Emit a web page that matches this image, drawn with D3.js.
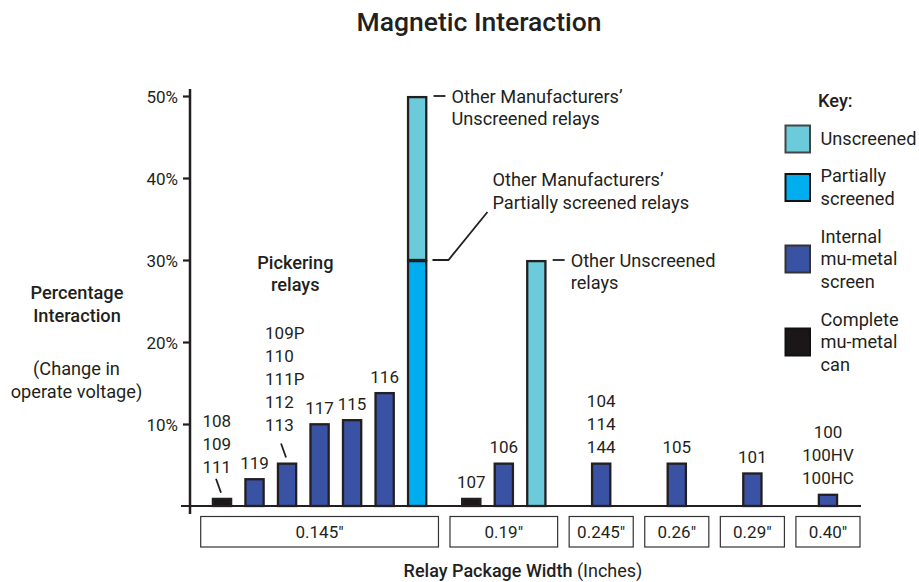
<!DOCTYPE html>
<html>
<head>
<meta charset="utf-8">
<script src="https://cdn.jsdelivr.net/npm/d3@7"></script>
<style>
  html, body { margin: 0; padding: 0; background: #fff; }
  svg { display: block; font-family: Roboto, "DejaVu Sans", sans-serif; }
</style>
</head>
<body>
<svg id="chart" width="919" height="582"></svg>
<script>
// ---------------- DATA ----------------
const title = "Magnetic Interaction";
const xAxisTitle = "Relay Package Width";
const xAxisUnit = " (Inches)";
const yAxisTitle = ["Percentage", "Interaction"];
const yAxisSub = ["(Change in", "operate voltage)"];
const yTicks = [10, 20, 30, 40, 50];

const groups = ['0.145"', '0.19"', '0.245"', '0.26"', '0.29"', '0.40"'];
const barGroup = [0, 0, 0, 0, 0, 0, 0, 1, 1, 1, 2, 3, 4, 5];
const barLabels = [
  ["108", "109", "111"], ["119"], ["109P", "110", "111P", "112", "113"], ["117"], ["115"], ["116"], [],
  ["107"], ["106"], [],
  ["104", "114", "144"], ["105"], ["101"], ["100", "100HV", "100HC"]
];
const seriesKeys = ["can", "internal", "partial", "unscreened"];
const canVals        = [1.0, 0, 0, 0, 0, 0, 0,  1.0, 0, 0,  0, 0, 0, 0];
const internalVals   = [0, 3.4, 5.3, 10.1, 10.6, 13.9, 0,  0, 5.3, 0,  5.3, 5.3, 4.1, 1.5];
const partialVals    = [0, 0, 0, 0, 0, 0, 30,  0, 0, 0,  0, 0, 0, 0];
const unscreenedVals = [0, 0, 0, 0, 0, 0, 20,  0, 0, 30,  0, 0, 0, 0];

const legendTitle = "Key:";
const legendItems = [
  { key: "unscreened", lines: ["Unscreened"] },
  { key: "partial", lines: ["Partially", "screened"] },
  { key: "internal", lines: ["Internal", "mu-metal", "screen"] },
  { key: "can", lines: ["Complete", "mu-metal", "can"] }
];
const groupNote = ["Pickering", "relays"];
const annotations = [
  { bar: 6, value: 50, lines: ["Other Manufacturers’", "Unscreened relays"], kind: "dash" },
  { bar: 6, value: 30, lines: ["Other Manufacturers’", "Partially screened relays"], kind: "elbow" },
  { bar: 9, value: 30, lines: ["Other Unscreened", "relays"], kind: "dash" }
];
const leaderBars = [0, 2];

// ---------------- STYLE / LAYOUT ----------------
const ink = "#231f20";
const fills = { can: "#1b1718", internal: "#3a52a3", partial: "#00aeef", unscreened: "#6bcbdb" };
const legendStroke = { can: "#111", internal: "#333", partial: "#111", unscreened: "#444" };
const fs = 17;      // numbers
const fw = 18.2;    // words
const lineH = 23;

const svg = d3.select("#chart");
const n = barGroup.length;
const table = d3.range(n).map(i => ({
  i, can: canVals[i], internal: internalVals[i], partial: partialVals[i], unscreened: unscreenedVals[i]
}));

// group widths in "bar slot" units
const counts = groups.map((g, gi) => barGroup.filter(b => b === gi).length);
const gap = 0.354;
const gW = counts.map(c => Math.max(c + 0.31, 1.97));
const gStart = [];
let acc = 0;
gW.forEach((w, i) => { gStart.push(acc); acc += w + gap; });
const totalUnits = acc - gap;

const x = d3.scaleLinear().domain([0, totalUnits]).range([200.7, 860]);
const y = d3.scaleLinear().domain([0, 50]).range([506, 96]);

const idxInGroup = barGroup.map((g, i) => barGroup.slice(0, i).filter(b => b === g).length);
const barCenterU = i => {
  const g = barGroup[i];
  return gStart[g] + gW[g] / 2 + (idxInGroup[i] - (counts[g] - 1) / 2);
};
const cx = i => x(barCenterU(i));
const barW = x(0.56) - x(0);

// ---------------- TITLE ----------------
svg.append("text").attr("x", 479).attr("y", 31).attr("text-anchor", "middle")
  .attr("font-size", 26.5).attr("font-weight", 500).attr("fill", ink).text(title);

// ---------------- Y AXIS ----------------
const yAxis = svg.append("g").attr("transform", "translate(190,0)")
  .call(d3.axisLeft(y).tickValues(yTicks).tickFormat(d => d + "%").tickSize(7).tickPadding(5));
yAxis.select(".domain").remove();
yAxis.selectAll(".tick line").attr("stroke", ink).attr("stroke-width", 2.2);
yAxis.selectAll(".tick text").attr("font-size", fs).attr("fill", ink)
  .attr("font-family", "Roboto, 'DejaVu Sans', sans-serif").attr("dy", "0.36em");
svg.append("line").attr("x1", 190).attr("x2", 190).attr("y1", 89).attr("y2", 514)
  .attr("stroke", ink).attr("stroke-width", 2.5);

// baseline
svg.append("line").attr("x1", 181).attr("x2", 861).attr("y1", y(0)).attr("y2", y(0))
  .attr("stroke", ink).attr("stroke-width", 2);

// y axis titles
const yt = svg.append("g").attr("fill", ink).attr("font-size", fw).attr("text-anchor", "middle");
yAxisTitle.forEach((t, k) => yt.append("text").attr("x", 77).attr("y", 298.5 + k * 23.5)
  .attr("font-weight", 500).text(t));
yAxisSub.forEach((t, k) => yt.append("text").attr("x", 76.5).attr("y", 375 + k * 22.5).text(t));

// ---------------- BARS ----------------
const stack = d3.stack().keys(seriesKeys)(table);
const segs = [];
stack.forEach(layer => layer.forEach((d, i) => {
  if (d[1] - d[0] > 0) segs.push({ key: layer.key, i, y0: d[0], y1: d[1] });
}));
svg.append("g").selectAll("rect").data(segs).join("rect")
  .attr("x", d => cx(d.i) - barW / 2)
  .attr("width", barW)
  .attr("y", d => y(d.y1) + 1.1)
  .attr("height", d => y(d.y0) - y(d.y1) - 1.1)
  .attr("fill", d => fills[d.key])
  .attr("stroke", ink).attr("stroke-width", 2.3);

// ---------------- BAR LABELS ----------------
const barTop = i => y(canVals[i] + internalVals[i] + partialVals[i] + unscreenedVals[i]);
const labG = svg.append("g").attr("fill", ink).attr("font-size", fs);
barLabels.forEach((lines, i) => {
  if (!lines.length) return;
  const leader = leaderBars.includes(i);
  const bottom = leader ? barTop(i) - (i === 0 ? 25 : 32) : barTop(i) - 9.5;
  const m = lines.length;
  lines.forEach((t, k) => {
    labG.append("text")
      .attr("x", leader ? cx(i) - (i === 0 ? 19.5 : 22) : cx(i))
      .attr("text-anchor", leader ? "start" : "middle")
      .attr("y", bottom - (m - 1 - k) * lineH)
      .text(t);
  });
  if (leader) {
    svg.append("line")
      .attr("x1", cx(i) - 6).attr("y1", barTop(i) - 19)
      .attr("x2", cx(i) - 1).attr("y2", barTop(i) - 5)
      .attr("stroke", ink).attr("stroke-width", 1.8);
  }
});

// group note "Pickering relays"
groupNote.forEach((t, k) => svg.append("text").attr("x", (cx(2) + cx(3)) / 2 - 8)
  .attr("y", 268.5 + k * 22).attr("text-anchor", "middle").attr("font-size", fw)
  .attr("font-weight", 500).attr("fill", ink).text(t));

// ---------------- ANNOTATIONS ----------------
const annG = svg.append("g").attr("fill", ink).attr("font-size", fw);
annotations.forEach(a => {
  const right = cx(a.bar) + barW / 2 + 1.2;
  const yy = y(a.value);
  if (a.kind === "dash") {
    svg.append("line").attr("x1", right + 6).attr("x2", right + 18).attr("y1", yy).attr("y2", yy)
      .attr("stroke", ink).attr("stroke-width", 1.8);
    a.lines.forEach((t, k) => annG.append("text").attr("x", right + 24)
      .attr("y", yy + 6.5 + k * 22.8).text(t));
  } else {
    svg.append("path")
      .attr("d", d3.line()([[right + 5, yy], [right + 21, yy], [right + 60, yy - 48]]))
      .attr("fill", "none").attr("stroke", ink).attr("stroke-width", 1.8);
    a.lines.forEach((t, k) => annG.append("text").attr("x", right + 65)
      .attr("y", yy - 74 + k * 22.5).text(t));
  }
});

// ---------------- GROUP BOXES (x axis categories) ----------------
const boxG = svg.append("g");
groups.forEach((g, gi) => {
  const x0 = x(gStart[gi]), x1 = x(gStart[gi] + gW[gi]);
  boxG.append("rect").attr("x", x0).attr("y", 516.5).attr("width", x1 - x0).attr("height", 30.5)
    .attr("fill", "#fff").attr("stroke", "#333").attr("stroke-width", 1.2);
  boxG.append("text").attr("x", (x0 + x1) / 2).attr("y", 537.5).attr("text-anchor", "middle")
    .attr("font-size", fs).attr("fill", ink).text(g);
});

// x axis title
const xt = svg.append("text").attr("x", 523).attr("y", 577).attr("text-anchor", "middle")
  .attr("font-size", 18).attr("fill", ink);
xt.append("tspan").attr("font-weight", 500).text(xAxisTitle);
xt.append("tspan").text(xAxisUnit);

// ---------------- LEGEND ----------------
const lg = svg.append("g");
lg.append("text").attr("x", 818).attr("y", 106.5).attr("font-size", fw).attr("font-weight", 500)
  .attr("fill", ink).text(legendTitle);
let cy = 139;
legendItems.forEach((it, k) => {
  if (k > 0) cy += (legendItems[k - 1].lines.length + it.lines.length) / 2 * lineH + 14;
  lg.append("rect").attr("x", 785.5).attr("y", cy - 13.5).attr("width", 24.5).attr("height", 27)
    .attr("fill", fills[it.key]).attr("stroke", legendStroke[it.key]).attr("stroke-width", 2);
  const m = it.lines.length;
  it.lines.forEach((t, j) => lg.append("text").attr("x", 820.5)
    .attr("y", cy + 6 + (j - (m - 1) / 2) * 22.5).attr("font-size", fw).attr("fill", ink).text(t));
});
</script>
</body>
</html>
